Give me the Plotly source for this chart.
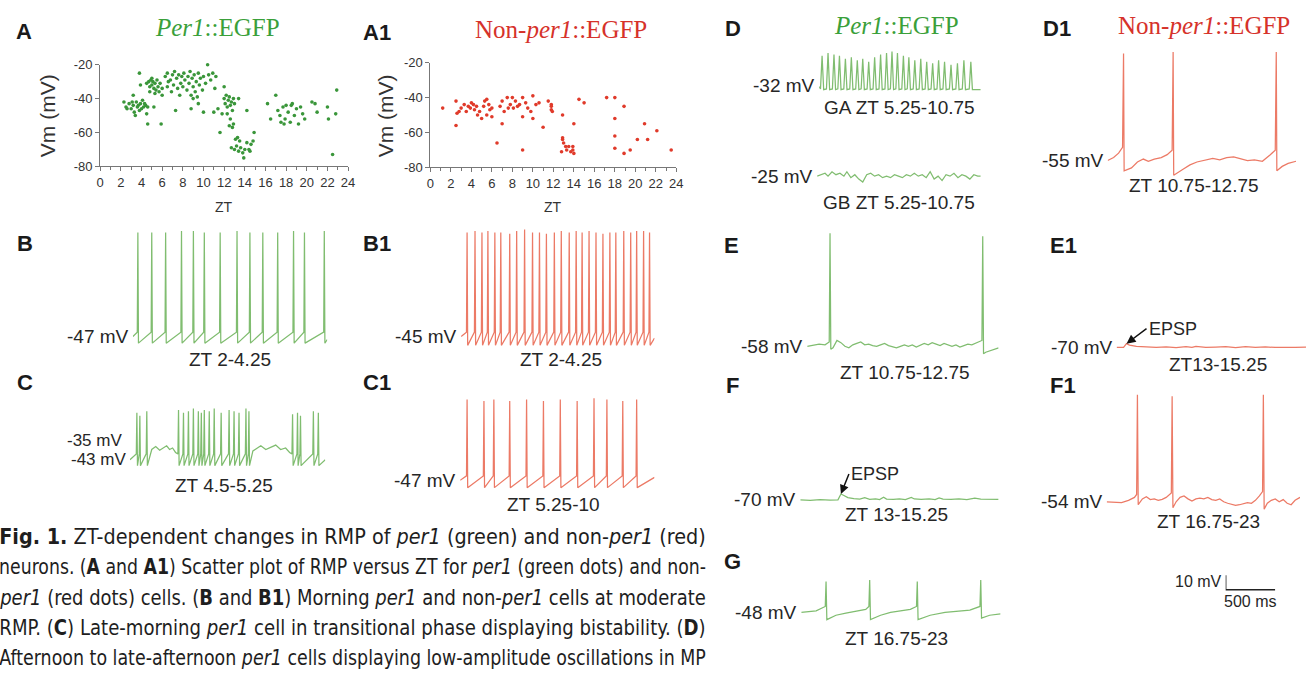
import plotly.graph_objects as go

W, H = 1313, 678
MS_PER_PX = 10.0     # time scale shared by all recordings (500 ms bar = 50 px)
PX_PER_MV = 1.5      # voltage scale shared by all recordings (10 mV bar = 15 px)

GREEN_DOT = "#3a963a"
RED_DOT = "#e03a2a"
GREEN_LINE = "#80bd70"
RED_LINE = "#ec7a66"
GREEN_TITLE = "#3aa03a"
RED_TITLE = "#d6322a"
INK = "#262626"
SANS = "Liberation Sans, Arial, sans-serif"
SERIF = "Liberation Serif, Times New Roman, serif"
NARROW = "Liberation Sans Narrow, DejaVu Sans Condensed, Arial Narrow, sans-serif"

# ---------------- scatter data (RMP vs ZT) ----------------
PER1_ZT = [2.3, 2.5, 2.8, 3.0, 3.2, 3.3, 3.5, 3.6, 3.8, 3.9, 4.0, 4.1, 4.2, 4.4, 4.5, 3.4, 2.6, 3.1, 4.3, 3.7,
           4.6, 5.2, 3.8, 3.9, 4.6, 5.9, 3.2,
           4.5, 4.7, 4.8, 4.9, 5.0, 5.1, 5.2, 5.3, 5.4, 5.5, 5.6, 5.7, 5.8, 6.0, 4.8, 5.3, 5.0,
           6.3, 6.5, 6.6, 6.8, 7.0, 7.1, 7.2, 7.4, 7.5, 7.6, 7.8, 7.9, 8.0, 8.1, 8.2, 8.4, 8.5, 8.6,
           8.7, 8.8, 8.9, 9.0, 9.1, 9.2, 9.3, 9.4, 9.5, 9.6, 9.7, 9.9, 10.0, 10.2, 10.4, 10.5, 10.7,
           10.9, 11.1, 11.2, 6.0, 7.3, 8.8, 10.0, 6.9, 7.7, 9.0, 9.5, 11.0, 6.5,
           11.8, 12.0, 12.1, 12.2, 12.3, 12.4, 12.5, 12.6, 12.7, 12.8, 12.9, 12.3, 12.6, 12.9, 12.5,
           12.0, 13.0, 13.4, 11.4, 11.6, 12.8,
           12.7, 13.0, 13.2, 13.4, 13.5, 13.6, 13.8, 14.0, 14.2, 14.4, 14.6, 14.8, 13.3, 13.9, 14.9,
           14.2, 13.1, 14.5,
           16.2, 16.5, 17.0, 17.2, 17.4, 17.5, 17.7, 17.9, 18.0, 18.2, 18.4, 18.6, 18.8, 19.0, 19.2,
           19.4, 19.8, 20.5, 20.8, 21.0, 22.0, 22.1, 22.8, 22.9, 22.5, 17.8, 18.5, 19.6]
PER1_VM = [-42, -45, -43, -46, -44, -48, -42, -45, -47, -43, -46, -41, -45, -44, -49, -50, -46, -42, -43, -44,
           -45, -45, -25, -32, -55, -55, -38,
           -31, -30, -33, -29, -32, -30, -34, -31, -35, -29, -33, -36, -31, -34, -36, -37, -28,
           -27, -25, -30, -29, -26, -32, -24, -28, -34, -26, -31, -27, -33, -25, -29, -35, -27, -31,
           -24, -38, -28, -33, -26, -36, -30, -39, -25, -32, -28, -35, -27, -31, -20, -26, -29,
           -25, -34, -27, -38, -47, -46, -48, -36, -38, -40, -43, -48, -33,
           -49, -40, -43, -38, -45, -41, -39, -44, -42, -47, -40, -49, -52, -55, -56,
           -33, -43, -40, -46, -60, -57,
           -69, -70, -68, -71, -65, -69, -72, -70, -66, -70, -67, -65, -63, -75, -60,
           -47, -64, -71,
           -43, -52, -38, -47, -50, -54, -45, -52, -44, -48, -54, -43, -50, -46, -55,
           -45, -52, -42, -43, -48, -45, -52, -49, -35, -73, -55, -44, -49]

NONPER1_ZT = [1.2, 2.5, 2.5, 2.6, 2.8, 3.0, 3.3, 3.5, 3.7, 3.9, 4.0, 4.2, 4.3, 4.5, 4.6, 4.8, 5.0, 5.2, 5.3,
              5.5, 5.5, 5.7, 5.8, 6.0, 6.0, 6.5, 6.8, 7.0, 7.0, 7.2, 7.5, 7.6, 7.8, 8.0, 8.1, 8.3, 8.5,
              8.7, 9.0, 9.0, 9.0, 9.3, 9.5, 9.8, 10.0, 10.0, 10.3, 10.6, 11.0, 11.5, 11.8, 11.8, 11.8,
              11.9, 12.9, 12.9, 12.9, 12.8, 13.0, 13.2, 13.3, 13.5, 13.7, 13.9, 14.0, 13.9, 14.0, 14.5,
              15.0, 17.2, 18.0, 18.0, 18.0, 18.0, 18.9, 18.9, 19.5, 20.2, 20.9, 21.2, 22.1, 23.5]
NONPER1_VM = [-46, -42, -56, -49, -48, -46, -44, -48, -45, -46, -43, -44, -47, -45, -50, -48, -52, -45, -42,
              -41, -50, -44, -47, -46, -51, -66, -45, -42, -55, -48, -40, -46, -44, -40, -46, -42, -45,
              -44, -40, -51, -70, -43, -46, -48, -39, -52, -44, -43, -57, -42, -44, -45, -47,
              -48, -50, -63, -64, -71, -66, -68, -70, -68, -71, -70, -72, -68, -55, -41,
              -43, -40, -40, -52, -62, -69, -45, -72, -70, -64, -55, -64, -59, -70]

ZT_TICKS = [0, 2, 4, 6, 8, 10, 12, 14, 16, 18, 20, 22, 24]
VM_TICKS = [-80, -60, -40, -20]

# ---------------- recordings (ms, mV) ----------------
# B  per1, ZT 2-4.25
B_SPIKE_MS = [50, 190, 330, 490, 610, 720, 880, 1050, 1180, 1310, 1460, 1620, 1730, 1930]
B_PEAK_MV = [24, 24, 24, 25, 25, 24, 24, 25, 24, 24, 24, 25, 24, 25]
B_KNOTS = [(0, -47), (1960, -49)]
# B1 non-per1, ZT 2-4.25
B1_SPIKE_MS = [60, 140, 210, 270, 340, 400, 490, 560, 640, 720, 790, 860, 940, 1010, 1090, 1160, 1220,
               1290, 1360, 1430, 1500, 1560, 1640, 1710, 1770, 1840, 1900]
B1_PEAK_MV = [26, 27, 26, 27, 26, 26, 25, 27, 28, 26, 26, 25, 26, 27, 26, 27, 26, 27, 26, 25, 26, 26,
              27, 26, 27, 27, 26]
B1_KNOTS = [(0, -45), (1950, -46)]
# C  per1, ZT 4.5-5.25 (bistable: -43 mV spiking / -35 mV plateau)
C_SPIKE_MS = [70, 100, 170, 490, 540, 590, 640, 690, 720, 750, 800, 850, 920, 1000, 1050, 1100, 1170,
              1200, 1640, 1690, 1720, 1850, 1900]
C_PEAK_MV = [-11, -13, -10, -9, -11, -10, -8, -10, -11, -9, -10, -8, -11, -9, -10, -11, -8, -10, -12,
             -11, -13, -10, -11]
C_KNOTS = [(0, -43), (220, -36), (260, -34), (300, -36.5), (340, -35), (370, -33.5), (400, -36),
           (430, -35), (460, -38), (1240, -37), (1280, -35), (1320, -33.5), (1370, -36), (1420, -34.5),
           (1470, -33), (1520, -36), (1570, -35), (1610, -38), (1970, -43)]
# C1 non-per1, ZT 5.25-10
C1_SPIKE_MS = [70, 240, 340, 500, 670, 840, 1010, 1180, 1350, 1480, 1640, 1780]
C1_PEAK_MV = [8, 7, 8, 7, 8, 7, 8, 7, 9, 8, 7, 8]
C1_KNOTS = [(0, -47), (1960, -45)]
# D  GA per1, ZT 5.25-10.75 (oscillations)
GA_PEAK_MS = [30, 90, 150, 205, 265, 325, 385, 440, 500, 560, 620, 680, 735, 790, 850, 905, 965, 1025,
              1085, 1145, 1205, 1265, 1330, 1395, 1460, 1530]
GA_PEAK_MV = [-12, -10, -11, -12, -14, -13, -15, -14, -16, -13, -11, -10, -9, -10, -12, -13, -15, -14,
              -16, -17, -15, -16, -18, -17, -15, -16]
GA_KNOTS = [(0, -33), (1630, -35)]
# D  GB per1, ZT 5.25-10.75
GB_KNOTS = [(0, -25), (40, -24), (80, -23), (110, -25), (150, -22), (190, -24), (230, -23), (270, -25),
            (300, -22), (340, -26), (380, -24), (420, -27), (460, -29), (500, -24), (540, -23), (580, -25),
            (620, -24), (660, -26), (700, -25), (740, -26), (780, -24), (820, -25), (860, -26), (900, -24),
            (940, -25), (980, -23), (1020, -25), (1060, -24), (1100, -26), (1140, -22), (1180, -27),
            (1220, -25), (1260, -28), (1300, -24), (1340, -25), (1380, -23), (1420, -26), (1460, -24),
            (1500, -25), (1540, -27), (1580, -24), (1620, -25), (1650, -25)]
# D1 non-per1, ZT 10.75-12.75
D1_SPIKE_MS = [160, 660, 1700]
D1_PEAK_MV = [18, 19, 19]
D1_KNOTS = [(0, -55), (60, -53), (110, -50), (150, -46), (166, -62), (240, -60), (300, -56), (360, -54),
            (410, -55.5), (470, -54), (540, -53), (600, -51), (650, -48), (666, -65), (760, -61),
            (830, -58), (900, -56), (980, -55), (1060, -53.5), (1130, -54.5), (1200, -53), (1270, -52.5),
            (1340, -54), (1410, -55), (1480, -54.5), (1560, -55.5), (1640, -51), (1690, -48), (1706, -62),
            (1760, -59), (1820, -57), (1900, -55.5)]
# E  per1, ZT 10.75-12.75
E_SPIKE_MS = [230, 1770]
E_PEAK_MV = [19, 17]
E_KNOTS = [(0, -58), (60, -57.5), (120, -56.5), (180, -57), (222, -55), (238, -60), (260, -59),
           (300, -54), (340, -55.5), (380, -58), (420, -59), (460, -57), (500, -56), (540, -55),
           (580, -57), (620, -56.5), (660, -57.5), (700, -58), (740, -57), (780, -56), (820, -57.5),
           (860, -58), (900, -59), (940, -58), (980, -57), (1020, -58), (1060, -57), (1100, -58.5),
           (1140, -57), (1180, -56), (1220, -57), (1260, -55.5), (1300, -56.5), (1340, -57.5),
           (1380, -56), (1420, -57), (1460, -58), (1500, -57), (1540, -58.5), (1580, -57.5),
           (1620, -56.5), (1660, -57), (1700, -56), (1762, -54), (1778, -63), (1800, -62), (1840, -61),
           (1880, -60.5), (1930, -59)]
# E1 non-per1, ZT 13-15.25
E1_KNOTS = [(0, -70), (70, -70), (100, -67.5), (130, -68.5), (200, -69.3), (300, -69.8), (400, -70),
            (500, -69.7), (600, -70.2), (700, -69.6), (760, -70), (800, -69.4), (900, -70.1),
            (1000, -69.8), (1100, -69.5), (1200, -70.2), (1300, -69.6), (1400, -70), (1500, -69.7),
            (1600, -70.1), (1700, -69.8), (1800, -70), (1910, -69.9)]
E1_EPSP = (100, -67.5)
# F  per1, ZT 13-15.25
F_KNOTS = [(0, -70), (100, -70.3), (200, -69.8), (300, -70.2), (380, -70), (410, -66), (440, -67),
           (480, -68.5), (540, -69.2), (600, -69.5), (650, -68.5), (700, -69.6), (760, -69.3),
           (800, -69.8), (840, -68.2), (870, -69.5), (940, -69.7), (1000, -69.4), (1060, -69.9),
           (1120, -68.3), (1150, -69.4), (1220, -69.6), (1300, -69.3), (1360, -69.8), (1400, -68.7),
           (1440, -69.5), (1520, -69.7), (1600, -69.4), (1680, -69.8), (1760, -68.9), (1820, -69.5),
           (1900, -69.7), (2000, -69.6)]
F_EPSP = (410, -66)
# F1 non-per1, ZT 16.75-23
F1_SPIKE_MS = [310, 660, 1580]
F1_PEAK_MV = [19, 18, 19]
F1_KNOTS = [(0, -54), (80, -54.2), (150, -54.5), (220, -53), (280, -51), (302, -49), (318, -56),
            (360, -52), (400, -50.5), (440, -52.5), (480, -52), (520, -53), (560, -52.3), (600, -51),
            (652, -48), (668, -58), (700, -54), (740, -51), (780, -50), (820, -52), (860, -53.5),
            (900, -52), (940, -51.5), (980, -52), (1020, -51), (1060, -52.5), (1100, -53), (1140, -52),
            (1180, -54), (1220, -55), (1260, -56), (1300, -56.5), (1340, -56), (1380, -55), (1420, -54.5),
            (1460, -55), (1500, -53), (1540, -50), (1572, -47), (1588, -59), (1620, -55), (1660, -53),
            (1700, -52), (1740, -54), (1780, -52.5), (1820, -55), (1860, -56), (1900, -53), (1950, -51)]
# G  per1, ZT 16.75-23
G_SPIKE_MS = [250, 690, 1170, 1810]
G_PEAK_MV = [-27, -26, -27, -26]
G_KNOTS = [(0, -48), (150, -47), (242, -44), (258, -53), (350, -50), (450, -48.5), (550, -47.5),
           (650, -46), (682, -44), (698, -53), (800, -50), (900, -48), (1000, -47), (1100, -46),
           (1162, -44), (1178, -53), (1300, -50), (1450, -48), (1600, -47), (1700, -46.5), (1802, -44),
           (1818, -52), (1900, -50), (2010, -49)]

SCALE_MS = 500
SCALE_MV = 10

CAPTION = [
    "<b>Fig. 1.</b> ZT-dependent changes in RMP of <i>per1</i> (green) and non-<i>per1</i> (red)",
    "neurons. (<b>A</b> and <b>A1</b>) Scatter plot of RMP versus ZT for <i>per1</i> (green dots) and non-",
    "<i>per1</i> (red dots) cells. (<b>B</b> and <b>B1</b>) Morning <i>per1</i> and non-<i>per1</i> cells at moderate",
    "RMP. (<b>C</b>) Late-morning <i>per1</i> cell in transitional phase displaying bistability. (<b>D</b>)",
    "Afternoon to late-afternoon <i>per1</i> cells displaying low-amplitude oscillations in MP",
]

# ---------------- helpers ----------------
fig = go.Figure()
layout = {}
annotations = []
axis_no = [2]


def px_x(px):
    return px / W


def px_y(px):
    return 1 - px / H


def build(knots, spike_ms=(), peak_mv=(), thr=None, ahp=None, half=6):
    pts = list(knots)
    for t, p in zip(spike_ms, peak_mv):
        if thr is not None:
            pts.append((t - half, thr))
        pts.append((t, p))
        if ahp is not None:
            pts.append((t + half, ahp))
    pts.sort(key=lambda q: q[0])
    return [q[0] for q in pts], [q[1] for q in pts]


def text(s, x, y, size=19, color=INK, family=SANS, xanchor="center", yanchor="middle", **kw):
    annotations.append(dict(text=s, x=px_x(x), y=px_y(y), xref="paper", yref="paper", showarrow=False,
                            xanchor=xanchor, yanchor=yanchor, font=dict(size=size, color=color, family=family),
                            **kw))
    return len(annotations) - 1


def recording(x_px, y_ref_px, v_ref, t, v, color, label=None, width=1.25, label_size=19):
    axis_no[0] += 1
    n = axis_no[0]
    t_end = max(t)
    t_vis = min(t_end, (W - x_px) * MS_PER_PX)
    vmin, vmax = min(v) - 2, max(v) + 2
    ytop = y_ref_px - (vmax - v_ref) * PX_PER_MV
    ybot = y_ref_px - (vmin - v_ref) * PX_PER_MV
    layout[f"xaxis{n}"] = dict(domain=[px_x(x_px), px_x(x_px + t_vis / MS_PER_PX)], range=[0, t_vis],
                               visible=False, anchor=f"y{n}", fixedrange=True)
    layout[f"yaxis{n}"] = dict(domain=[px_y(ybot), px_y(ytop)], range=[vmin, vmax], visible=False,
                               anchor=f"x{n}", fixedrange=True)
    fig.add_trace(go.Scatter(x=t, y=v, mode="lines", line=dict(color=color, width=width),
                             xaxis=f"x{n}", yaxis=f"y{n}", hoverinfo="skip", showlegend=False))
    if label:
        annotations.append(dict(text=label, x=0, y=v_ref, xref=f"x{n}", yref=f"y{n}", xanchor="right",
                                yanchor="middle", xshift=-2, showarrow=False,
                                font=dict(size=label_size, color=INK, family=SANS)))
    return n


# ---------------- scatter panels ----------------
def scatter_axes(n, x0, x1, y_top, y_bot):
    ax = dict(domain=[px_x(x0), px_x(x1)], range=[0, 24], tickvals=ZT_TICKS, ticktext=[str(v) for v in ZT_TICKS],
              ticks="outside", ticklen=4, tickcolor="#777", showline=True, linecolor="#777", linewidth=1,
              showgrid=False, zeroline=False, tickfont=dict(size=13, color="#333", family=SANS),
              minor=dict(dtick=1, ticks="outside", ticklen=3, tickcolor="#777"),
              anchor="y" if n == 1 else f"y{n}", fixedrange=True)
    ay = dict(domain=[px_y(y_bot), px_y(y_top)], range=[-80, -20], tickvals=VM_TICKS,
              ticktext=[str(v) for v in VM_TICKS], ticks="outside", ticklen=4, tickcolor="#777",
              showline=True, linecolor="#777", linewidth=1, showgrid=False, zeroline=False,
              tickfont=dict(size=13, color="#333", family=SANS), anchor="x" if n == 1 else f"x{n}",
              fixedrange=True)
    key = "" if n == 1 else str(n)
    layout[f"xaxis{key}"] = ax
    layout[f"yaxis{key}"] = ay


scatter_axes(1, 97, 347, 59, 163)
scatter_axes(2, 430, 678, 57, 164)
fig.add_trace(go.Scatter(x=PER1_ZT, y=PER1_VM, mode="markers", marker=dict(color=GREEN_DOT, size=3.6),
                         xaxis="x", yaxis="y", showlegend=False, cliponaxis=False))
fig.add_trace(go.Scatter(x=NONPER1_ZT, y=NONPER1_VM, mode="markers", marker=dict(color=RED_DOT, size=3.6),
                         xaxis="x2", yaxis="y2", showlegend=False, cliponaxis=False))

text("Vm (mV)", 44, 111, size=21, textangle=-90, color="#333")
text("Vm (mV)", 385, 111, size=21, textangle=-90, color="#333")
text("ZT", 222, 205, size=14, color="#333")
text("ZT", 554, 205, size=14, color="#333")

# ---------------- panel letters and titles ----------------
for s, x, y in [("A", 20, 25), ("A1", 376, 26), ("B", 21, 242), ("B1", 376, 242), ("C", 21, 384),
                ("C1", 376, 384), ("D", 735, 22), ("D1", 1062, 22), ("E", 734, 244), ("E1", 1068, 244),
                ("F", 735, 387), ("F1", 1068, 387), ("G", 735, 567)]:
    text(f"<b>{s}</b>", x, y, size=22, color="#1a1a1a")

text("<i>Per1</i>::EGFP", 215, 21, size=25, color=GREEN_TITLE, family=SERIF)
text("Non-<i>per1</i>::EGFP", 562, 23, size=25, color=RED_TITLE, family=SERIF)
text("<i>Per1</i>::EGFP", 900, 19, size=25, color=GREEN_TITLE, family=SERIF)
text("Non-<i>per1</i>::EGFP", 1210, 19, size=25, color=RED_TITLE, family=SERIF)

# ---------------- recordings ----------------
t, v = build(B_KNOTS, B_SPIKE_MS, B_PEAK_MV, thr=-44, ahp=-51.5)
recording(130, 337, -47, t, v, GREEN_LINE, "-47 mV")
text("ZT 2-4.25", 228, 360)

t, v = build(B1_KNOTS, B1_SPIKE_MS, B1_PEAK_MV, thr=-42, ahp=-51)
recording(461, 337, -45, t, v, RED_LINE, "-45 mV")
text("ZT 2-4.25", 562, 360)

t, v = build(C_KNOTS, C_SPIKE_MS, C_PEAK_MV, thr=-39, ahp=-47)
recording(127, 463, -43, t, v, GREEN_LINE, "-43 mV", label_size=17)
text("-35 mV", 121, 443, size=17, xanchor="right")
text("ZT 4.5-5.25", 222, 489)

t, v = build(C1_KNOTS, C1_SPIKE_MS, C1_PEAK_MV, thr=-44, ahp=-52)
recording(460, 484, -47, t, v, RED_LINE, "-47 mV")
text("ZT 5.25-10", 554, 509)

t, v = build(GA_KNOTS, GA_PEAK_MS, GA_PEAK_MV, thr=-34.5, ahp=-35, half=16)
recording(822, 80, -32, t, v, GREEN_LINE, "-32 mV")
text("GA ZT 5.25-10.75", 903, 103)

t, v = build(GB_KNOTS)
recording(820, 173, -25, t, v, GREEN_LINE, "-25 mV")
text("GB ZT 5.25-10.75", 903, 200)

t, v = build(D1_KNOTS, D1_SPIKE_MS, D1_PEAK_MV)
recording(1113, 157, -55, t, v, RED_LINE, "-55 mV")
text("ZT 10.75-12.75", 1200, 183)

t, v = build(E_KNOTS, E_SPIKE_MS, E_PEAK_MV)
recording(810, 347, -58, t, v, GREEN_LINE, "-58 mV")
text("ZT 10.75-12.75", 909, 374)

t, v = build(E1_KNOTS)
nE1 = recording(1122, 348, -70, t, v, RED_LINE, "-70 mV")
annotations.append(dict(text="EPSP", x=E1_EPSP[0], y=E1_EPSP[1], xref=f"x{nE1}", yref=f"y{nE1}",
                        ax=20, ay=-15, showarrow=True, arrowhead=2, arrowsize=1.2, arrowwidth=1.5,
                        arrowcolor="#111", xanchor="left", font=dict(size=18, color=INK, family=SANS)))
text("ZT13-15.25", 1224, 366)

t, v = build(F_KNOTS)
nF = recording(803, 504, -70, t, v, GREEN_LINE, "-70 mV")
annotations.append(dict(text="EPSP", x=F_EPSP[0], y=F_EPSP[1], xref=f"x{nF}", yref=f"y{nF}",
                        ax=8, ay=-20, showarrow=True, arrowhead=2, arrowsize=1.2, arrowwidth=1.5,
                        arrowcolor="#111", xanchor="left", font=dict(size=18, color=INK, family=SANS)))
text("ZT 13-15.25", 900, 519)

t, v = build(F1_KNOTS, F1_SPIKE_MS, F1_PEAK_MV)
recording(1112, 506, -54, t, v, RED_LINE, "-54 mV")
text("ZT 16.75-23", 1215, 526)

t, v = build(G_KNOTS, G_SPIKE_MS, G_PEAK_MV)
recording(804, 619, -48, t, v, GREEN_LINE, "-48 mV")
text("ZT 16.75-23", 900, 646)

# ---------------- scale bar ----------------
nS = recording(1232, 596, 0, [0, 0, SCALE_MS], [SCALE_MV, 0, 0], "#222", None, width=1.5)
annotations.append(dict(text=f"{SCALE_MV} mV", x=0, y=SCALE_MV * 0.6, xref=f"x{nS}", yref=f"y{nS}",
                        xanchor="right", yanchor="middle", xshift=-2, showarrow=False,
                        font=dict(size=16, color=INK, family=SANS)))
annotations.append(dict(text=f"{SCALE_MS} ms", x=SCALE_MS / 2, y=0, xref=f"x{nS}", yref=f"y{nS}",
                        xanchor="center", yanchor="top", yshift=-1, showarrow=False,
                        font=dict(size=16, color=INK, family=SANS)))

# ---------------- caption (justified to the column width in the page) ----------------
caption_idx = []
for i, line in enumerate(CAPTION):
    caption_idx.append(text(line, -7, 542 + i * 31, size=21, family=NARROW, xanchor="left", color="#1e1e1e"))

fig.update_layout(width=W, height=H, margin=dict(l=0, r=0, t=0, b=0), paper_bgcolor="white",
                  plot_bgcolor="rgba(0,0,0,0)", showlegend=False, annotations=annotations, **layout)

POST = """
document.body.style.margin = '0';
var gd = document.getElementById('{plot_id}');
var IDX = %s;
function fitCaption() {
  IDX.forEach(function (k) {
    var t = gd.querySelector('g.annotation[data-index="' + k + '"] text.annotation-text');
    if (!t) return;
    t.style.transform = 'none';
    var w = t.getBBox().width;
    if (!w) return;
    t.style.transformBox = 'fill-box';
    t.style.transformOrigin = 'left center';
    t.style.transform = 'scaleX(' + (707 / w) + ')';
  });
}
fitCaption();
gd.on('plotly_afterplot', fitCaption);
""" % str(caption_idx)

fig.write_html("out.html", post_script=POST, config={"displayModeBar": False, "staticPlot": True})
